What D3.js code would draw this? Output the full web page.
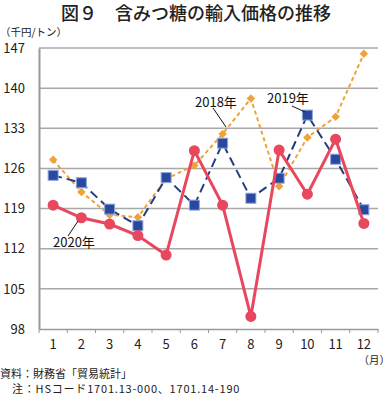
<!DOCTYPE html>
<html><head><meta charset="utf-8">
<script src="https://cdn.jsdelivr.net/npm/d3@7"></script>
<style>
html,body{margin:0;padding:0;background:#fff;}
svg{display:block;}
text{font-family:"Noto Sans CJK JP","Liberation Sans",sans-serif;}
</style></head>
<body>
<script>
const months = ["1","2","3","4","5","6","7","8","9","10","11","12"];
const yTicks = [98,105,112,119,126,133,140,147];
const v2018 = [127.5,121.9,117.9,117.5,124.2,126.5,132.0,138.2,122.9,131.4,135.0,146.0];
const v2019 = [124.8,123.5,118.9,116.0,124.4,119.6,130.4,120.8,124.3,135.3,127.6,118.8];
const v2020 = [119.6,117.4,116.3,114.3,110.9,129.1,119.6,100.2,129.2,121.5,131.1,116.4];
const seriesLabels = ["2018年","2019年","2020年"];

const W=390,H=399;
const svg=d3.select("body").append("svg").attr("width",W).attr("height",H);
const pL=39,pR=378,pT=48,pB=329;
const x=d3.scaleBand().domain(months).range([pL,pR]);
const y=d3.scaleLinear().domain([98,147]).range([pB,pT]);
const cx=d=>x(d)+x.bandwidth()/2;

svg.append("text").attr("x",196).attr("y",20).attr("text-anchor","middle")
  .attr("font-size",18).attr("fill","#222").attr("font-weight",500).text("図９　含みつ糖の輸入価格の推移");
svg.append("text").attr("x",0).attr("y",36).attr("font-size",10.5).attr("fill","#222").text("（千円/トン）");

// gridlines
svg.append("g").selectAll("line").data(yTicks.filter(t=>t>98)).join("line")
  .attr("x1",pL).attr("x2",pR).attr("y1",d=>y(d)).attr("y2",d=>y(d))
  .attr("stroke","#a8a8a8").attr("stroke-width",1.5);

// y axis
const ya=svg.append("g").attr("transform",`translate(${pL},0)`)
  .call(d3.axisLeft(y).tickValues(yTicks).tickSize(0).tickPadding(14));
ya.select(".domain").attr("stroke","#9a9a9a").attr("stroke-width",2);
ya.selectAll("text").attr("font-size",13).attr("fill","#222").attr("font-family","Liberation Sans, Arial, sans-serif");

// x axis
const xa=svg.append("g").attr("transform",`translate(0,${pB})`)
  .call(d3.axisBottom(x).tickSize(0).tickPadding(11));
xa.select(".domain").attr("stroke","#9a9a9a").attr("stroke-width",1.5);
xa.selectAll("text").attr("font-size",13).attr("fill","#222").attr("font-family","Liberation Sans, Arial, sans-serif");
const bounds=months.map(m=>x(m)).concat([x(months[months.length-1])+x.bandwidth()]);
svg.append("g").selectAll("line").data(bounds).join("line")
  .attr("x1",d=>d).attr("x2",d=>d).attr("y1",pB).attr("y2",pB+4)
  .attr("stroke","#9a9a9a").attr("stroke-width",1);
svg.append("text").attr("x",390).attr("y",364).attr("text-anchor","end").attr("font-size",10.5).attr("fill","#222").text("（月）");

const line=d3.line().x((d,i)=>cx(months[i])).y(d=>y(d));

// 2018 orange
svg.append("path").datum(v2018).attr("d",line).attr("fill","none")
  .attr("stroke","#f0a23a").attr("stroke-width",2).attr("stroke-dasharray","4,3");
svg.append("g").selectAll("path").data(v2018).join("path")
  .attr("d",d3.symbol(d3.symbolDiamond2,46))
  .attr("transform",(d,i)=>`translate(${cx(months[i])},${y(d)})`)
  .attr("fill","#f0a23a");

// 2019 blue
svg.append("path").datum(v2019).attr("d",line).attr("fill","none")
  .attr("stroke","#253d80").attr("stroke-width",2).attr("stroke-dasharray","9,5");
svg.append("g").selectAll("rect").data(v2019).join("rect")
  .attr("x",(d,i)=>cx(months[i])-5).attr("y",d=>y(d)-5).attr("width",10).attr("height",10)
  .attr("fill","#2a48a0").attr("stroke","#8ea6dc").attr("stroke-width",1);

// 2020 red
svg.append("path").datum(v2020).attr("d",line).attr("fill","none")
  .attr("stroke","#e8475e").attr("stroke-width",3);
svg.append("g").selectAll("circle").data(v2020).join("circle")
  .attr("cx",(d,i)=>cx(months[i])).attr("cy",d=>y(d)).attr("r",5.5)
  .attr("fill","#e8475e");

// annotations
const ann=svg.append("g").attr("font-size",13).attr("fill","#111");
ann.append("text").attr("x",195).attr("y",107).text(seriesLabels[0]);
ann.append("line").attr("x1",213).attr("y1",108).attr("x2",226).attr("y2",127).attr("stroke","#111").attr("stroke-width",1);
ann.append("text").attr("x",267).attr("y",103).text(seriesLabels[1]);
ann.append("line").attr("x1",292).attr("y1",106).attr("x2",305).attr("y2",112).attr("stroke","#111").attr("stroke-width",1);
ann.append("text").attr("x",53).attr("y",247).text(seriesLabels[2]);
ann.append("line").attr("x1",68).attr("y1",236).attr("x2",78).attr("y2",221).attr("stroke","#111").attr("stroke-width",1);

svg.append("text").attr("x",0).attr("y",378).attr("font-size",11).attr("fill","#222").text("資料：財務省「貿易統計」");
svg.append("text").attr("x",12).attr("y",393).attr("font-size",11).attr("letter-spacing",0.8).attr("fill","#222").text("注：HSコード1701.13-000、1701.14-190");
</script>
</body></html>
